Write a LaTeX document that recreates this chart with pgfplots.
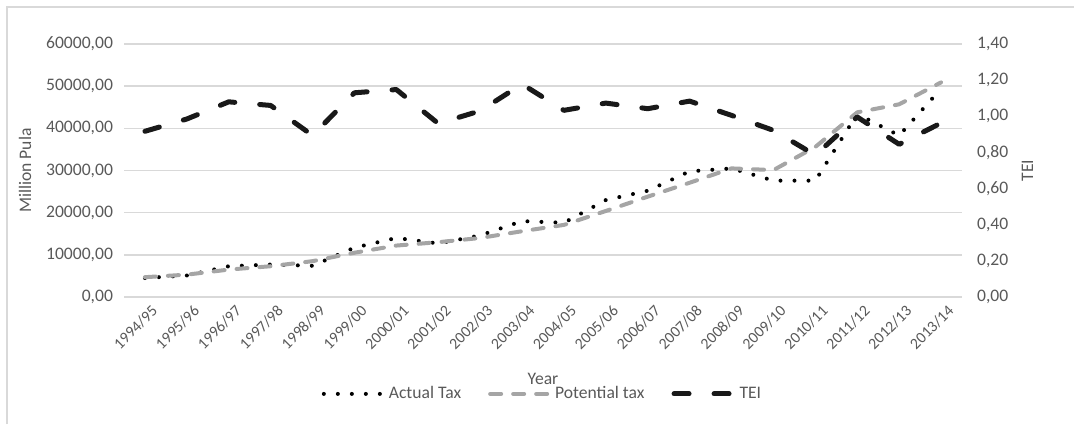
\documentclass[border=0pt]{standalone}
\usepackage{pgfplots}
\pgfplotsset{compat=1.18}
\usepackage{fontspec}
\setmainfont{Carlito}
\definecolor{txtc}{HTML}{595959}
\definecolor{gridc}{HTML}{D9D9D9}
\definecolor{potc}{HTML}{A5A5A5}
\tikzset{
  actstyle/.style={black, line width=2pt, line cap=round, line join=round, dash pattern=on 0pt off 7pt},
  potstyle/.style={potc, line width=2pt, line cap=round, line join=round, dash pattern=on 5.5pt off 6pt},
  teistyle/.style={black!90, line width=2.5pt, line cap=round, line join=round, dash pattern=on 7.5pt off 12.5pt},
}
\pgfplotsset{
  common/.style={
    at={(62pt,63.5pt)}, anchor=south west,
    scale only axis, width=419pt, height=126.5pt,
    xmin=-0.5, xmax=19.5,
    axis line style={draw=none},
    major tick length=0pt,
    tick label style={font=\fontsize{8.8}{10.5}\selectfont, text=txtc},
    label style={font=\fontsize{8.8}{10.5}\selectfont, text=txtc},
    /pgf/number format/assume math mode=true,
    /pgf/number format/fixed,
    /pgf/number format/fixed zerofill,
    /pgf/number format/precision=2,
    /pgf/number format/use comma,
    /pgf/number format/1000 sep={},
    scaled y ticks=false,
    clip=false,
  },
}
\begin{document}
\begin{tikzpicture}
\useasboundingbox (0,0) rectangle (537pt,212pt);
\draw[gridc, line width=0.7pt] (3.5pt,0) -- (3.5pt,208.5pt) -- (537pt,208.5pt);
\begin{axis}[common,
  ymin=0, ymax=60000,
  ytick={0,10000,20000,30000,40000,50000,60000},
  ymajorgrids, grid style={gridc, line width=0.7pt},
  yticklabel style={xshift=-2pt},
  xtick={0,...,19},
  xticklabels={1994/95,1995/96,1996/97,1997/98,1998/99,1999/00,2000/01,2001/02,2002/03,2003/04,2004/05,2005/06,2006/07,2007/08,2008/09,2009/10,2010/11,2011/12,2012/13,2013/14},
  xticklabel style={font=\fontsize{7.9}{9.5}\selectfont, rotate=45, anchor=north east, xshift=3pt, yshift=-1pt},
  ylabel={Million Pula},
  ylabel style={at={(axis description cs:-0.118,0.5)}, anchor=center},
  xlabel={Year},
  xlabel style={at={(axis description cs:0.5,-0.322)}, anchor=center},
  legend columns=3,
  legend style={at={(0.5,-0.383)}, anchor=center, draw=none, fill=none,
    font=\fontsize{8.8}{10.5}\selectfont, text=txtc,
    /tikz/every even column/.append style={column sep=12pt},
    inner sep=0pt,
    nodes={inner sep=1.5pt}},
  legend image code/.code={\draw[#1] (0pt,0pt) -- (30pt,0pt);},
]
\addplot[actstyle] coordinates {
(0,4500) (1,5100) (2,7300) (3,7700) (4,7400) (5,11700) (6,14000) (7,12700) (8,14600) (9,18000)
(10,17600) (11,23000) (12,25200) (13,29800) (14,30500) (15,27600) (16,27600) (17,43400) (18,38300) (19,49400)};
\addlegendentry{Actual Tax}
\addplot[potstyle] coordinates {
(0,4700) (1,5300) (2,6500) (3,7300) (4,8500) (5,10500) (6,12200) (7,13000) (8,14000) (9,15600)
(10,17100) (11,20400) (12,23800) (13,27100) (14,30500) (15,30100) (16,35600) (17,43800) (18,45700) (19,50900)};
\addlegendentry{Potential tax}
\addlegendimage{teistyle}
\addlegendentry{TEI}
\end{axis}
\begin{axis}[common,
  ymin=0, ymax=1.4,
  ytick={0,0.2,0.4,0.6,0.8,1.0,1.2,1.4},
  axis y line*=right,
  yticklabel style={xshift=4pt},
  xtick=\empty,
  ylabel={TEI},
  ylabel style={at={(axis description cs:1.078,0.5)}, anchor=center, rotate=0},
]
\addplot[teistyle] coordinates {
(0,0.917) (1,0.985) (2,1.08) (3,1.06) (4,0.894) (5,1.13) (6,1.148) (7,0.96) (8,1.03) (9,1.178)
(10,1.033) (11,1.073) (12,1.042) (13,1.084) (14,1.005) (15,0.922) (16,0.785) (17,0.996) (18,0.845) (19,0.963)};
\end{axis}
\end{tikzpicture}
\end{document}
